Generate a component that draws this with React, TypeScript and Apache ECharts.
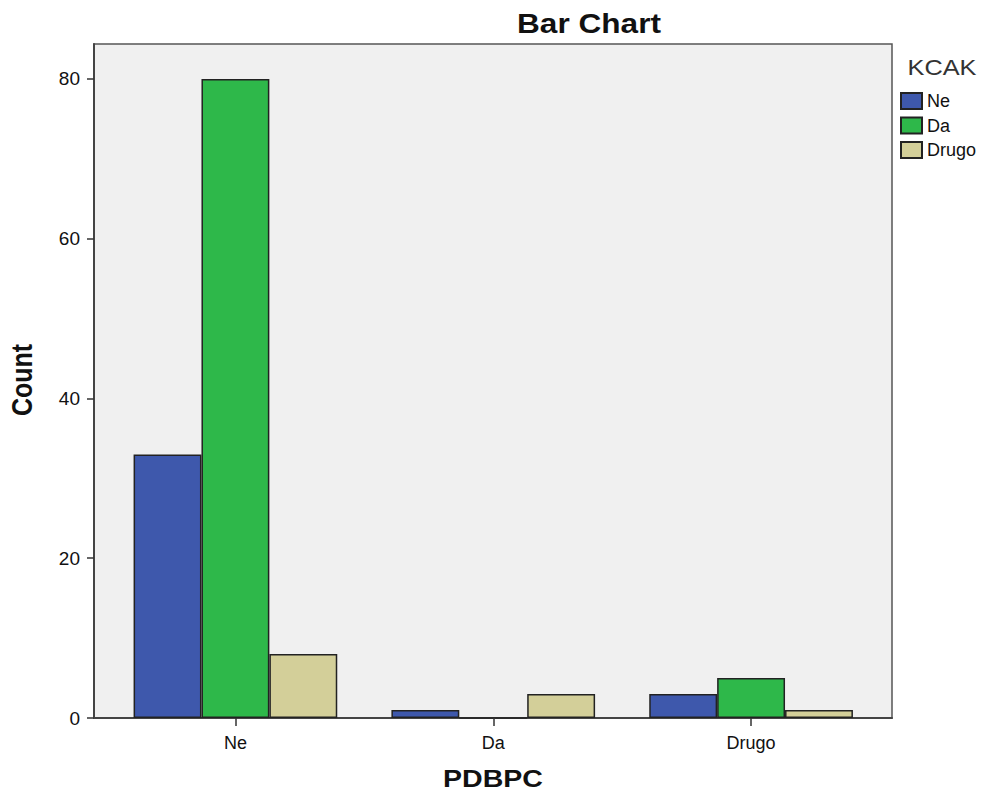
import React, { useEffect, useRef } from "react";
import * as echarts from "echarts";

const categories = ["Ne", "Da", "Drugo"];
const seriesNames = ["Ne", "Da", "Drugo"];
const seriesNe = [33, 1, 3];
const seriesDa = [80, 0, 5];
const seriesDrugo = [8, 3, 1];
const yTicks = [0, 20, 40, 60, 80];
const colors = ["#3e58ac", "#2eb84a", "#d3cf99"];

export default function App() {
  const ref = useRef<HTMLDivElement>(null);
  useEffect(() => {
    document.body.style.margin = "0";
    const chart = echarts.init(ref.current!, null, { renderer: "svg" });
    const font = "'Liberation Sans', Arial, sans-serif";
    const values = [seriesNe, seriesDa, seriesDrugo];
    const yMax = 84.375;
    chart.setOption({
      animation: false,
      backgroundColor: "#ffffff",
      legend: {
        orient: "vertical",
        left: 900,
        top: 92,
        padding: 0,
        itemWidth: 21,
        itemHeight: 16,
        itemGap: 6.5,
        icon: "rect",
        data: seriesNames,
        textStyle: { fontFamily: font, fontSize: 18, color: "#111" },
      },
      graphic: [
        {
          type: "text",
          x: 589,
          y: 23,
          scaleX: 1.17,
          style: {
            text: "Bar Chart",
            fontFamily: font,
            fontSize: 27,
            fontWeight: "bold",
            fill: "#111",
            align: "center",
            verticalAlign: "middle",
          },
        },
        {
          type: "text",
          x: 942,
          y: 68,
          scaleX: 1.15,
          style: {
            text: "KCAK",
            fontFamily: font,
            fontSize: 22,
            fill: "#333",
            align: "center",
            verticalAlign: "middle",
          },
        },
        {
          type: "text",
          x: 22.5,
          y: 380,
          rotation: Math.PI / 2,
          scaleY: 1.15,
          style: {
            text: "Count",
            fontFamily: font,
            fontSize: 25,
            fontWeight: "bold",
            fill: "#111",
            align: "center",
            verticalAlign: "middle",
          },
        },
        {
          type: "text",
          x: 493,
          y: 779,
          scaleX: 1.19,
          style: {
            text: "PDBPC",
            fontFamily: font,
            fontSize: 24,
            fontWeight: "bold",
            fill: "#111",
            align: "center",
            verticalAlign: "middle",
          },
        },
      ],
      grid: [
        { left: 106.5, right: 105, top: 44, bottom: 74 },
        {
          left: 94,
          right: 93,
          top: 44,
          bottom: 74,
          show: true,
          backgroundColor: "#f0f0f0",
          borderColor: "#555",
          borderWidth: 1.5,
          z: 0,
        },
      ],
      xAxis: [
        {
          type: "category",
          gridIndex: 0,
          data: categories,
          axisLine: { show: false },
          axisTick: { show: true, alignWithLabel: true, length: 8, lineStyle: { color: "#333", width: 1.5 } },
          axisLabel: { fontFamily: font, fontSize: 18, color: "#111", margin: 16 },
          z: 5,
        },
        {
          type: "value",
          gridIndex: 1,
          min: 0,
          max: 1,
          axisLine: { show: true, lineStyle: { color: "#444", width: 2 } },
          axisTick: { show: false },
          axisLabel: { show: false },
          splitLine: { show: false },
        },
      ],
      yAxis: [
        {
          type: "value",
          gridIndex: 0,
          min: 0,
          max: yMax,
          interval: 20,
          axisLine: { show: false },
          axisTick: { show: false },
          axisLabel: { show: false },
          splitLine: { show: false },
        },
        {
          type: "value",
          gridIndex: 1,
          min: 0,
          max: yMax,
          interval: 20,
          axisLine: { show: true, lineStyle: { color: "#444", width: 2 } },
          axisTick: { show: true, length: 7, customValues: yTicks, lineStyle: { color: "#333", width: 1.5 } },
          axisLabel: {
            customValues: yTicks,
            fontFamily: font,
            fontSize: 19,
            color: "#111",
            margin: 14,
          },
          splitLine: { show: false },
        },
      ],
      series: seriesNames.map((name, i) => ({
        name,
        type: "bar",
        xAxisIndex: 0,
        yAxisIndex: 0,
        data: values[i],
        barGap: "0%",
        barCategoryGap: "21%",
        z: 3,
        itemStyle: { color: colors[i], borderColor: "#222", borderWidth: 1.5 },
      })),
    });
    return () => chart.dispose();
  }, []);
  return <div ref={ref} style={{ width: 985, height: 792 }} />;
}
